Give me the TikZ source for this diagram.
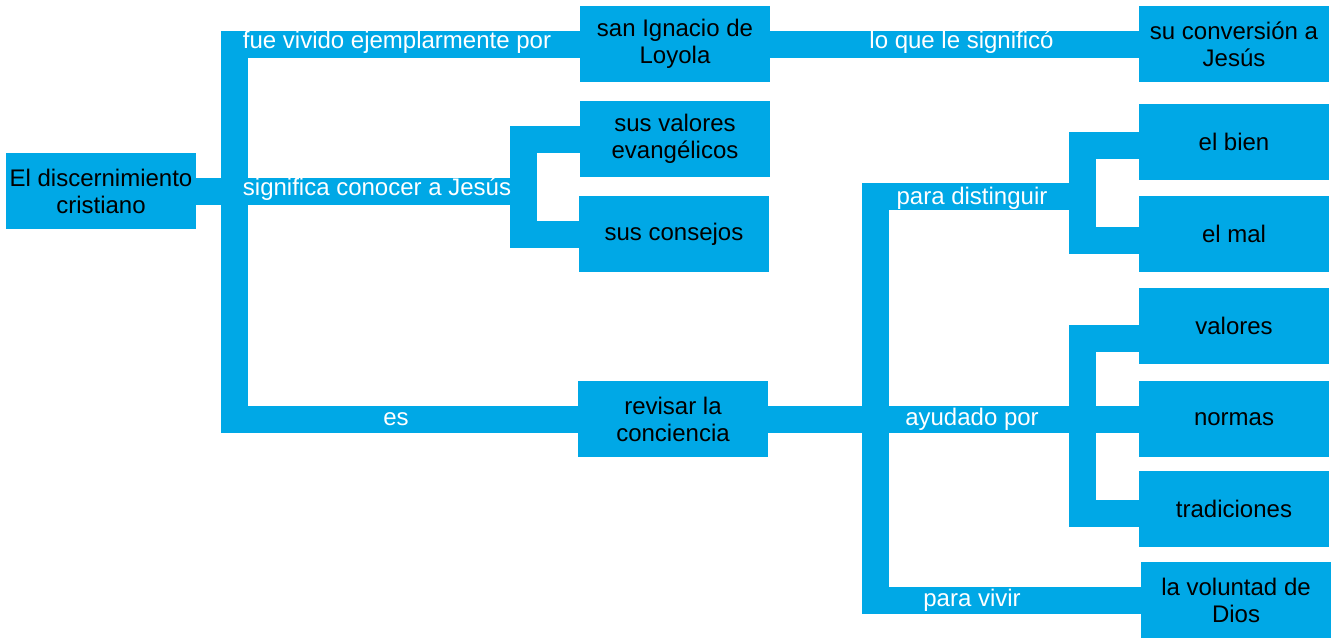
\documentclass[tikz,border=0pt]{standalone}
\usepackage{fontspec}
\setmainfont{Liberation Sans}
\usetikzlibrary{positioning}
\definecolor{mapblue}{RGB}{0,168,230}

\begin{document}
\begin{tikzpicture}[x=0.5pt,y=-0.5pt]
        \fontsize{12pt}{13.5pt}\selectfont
        \tikzstyle{box} = [rectangle,fill=mapblue,inner sep=0pt,minimum width=95pt,minimum height=38pt,align=center,text=black]
        \tikzstyle{bar} = [draw=mapblue,line width=13.5pt,line cap=butt,line join=miter]
        \tikzstyle{lab} = [text=white,inner sep=0pt,anchor=base]
        \useasboundingbox (0,0) rectangle (1332,637);

        % concepts
        \node[box] (root) at (101,191) {El discernimiento\\cristiano};
        \node[box] (san) at (675,44) {san Ignacio de\\Loyola};
        \node[box] (conv) at (1234,44) {su conversión a\\Jesús};
        \node[box] (sval) at (675,139) {sus valores\\evangélicos};
        \node[box] (scons) at (674,234) {sus consejos};
        \node[box] (revisar) at (673,419) {revisar la\\conciencia};
        \node[box] (bien) at (1234,141.5) {el bien};
        \node[box] (mal) at (1234,234) {el mal};
        \node[box] (valores) at (1234,325.5) {valores};
        \node[box] (normas) at (1234,419) {normas};
        \node[box] (trad) at (1234,509) {tradiciones};
        \node[box] (vol) at (1236,600) {la voluntad de\\Dios};

        % junctions
        \coordinate (t1) at (234,191);
        \coordinate (s1) at (523.5,191);
        \coordinate (t2) at (875.5,419);
        \coordinate (s2) at (1082.5,196.5);
        \coordinate (s3) at (1082.5,419);

        % links from the root
        \draw[bar] (root.east) -- (s1);
        \draw[bar] (san.west) -| (t1) |- (revisar.west);
        \draw[bar] (sval.west) -| (s1) |- (scons.west);
        \draw[bar] (san.east) -- (conv.west);

        % links from revisar la conciencia
        \draw[bar] (revisar.east) -- (normas.west);
        \draw[bar] (s2) -| (t2) |- (vol.west);
        \draw[bar] ([yshift=-2pt]bien.west) -| (s2) |- ([yshift=-3pt]mal.west);
        \draw[bar] ([yshift=-6.5pt]valores.west) -| (s3) |- ([yshift=-2pt]trad.west);

        % link words
        \node[lab] (l1) at (397,48) {fue vivido ejemplarmente por};
        \node[lab] (l2) at (961.5,48) {lo que le significó};
        \node[lab] (l3) at (377,195) {significa conocer a Jesús};
        \node[lab] (l4) at (396,425) {es};
        \node[lab] (l5) at (972,204) {para distinguir};
        \node[lab] (l6) at (972,425) {ayudado por};
        \node[lab] (l7) at (972,606) {para vivir};
\end{tikzpicture}
\end{document}
